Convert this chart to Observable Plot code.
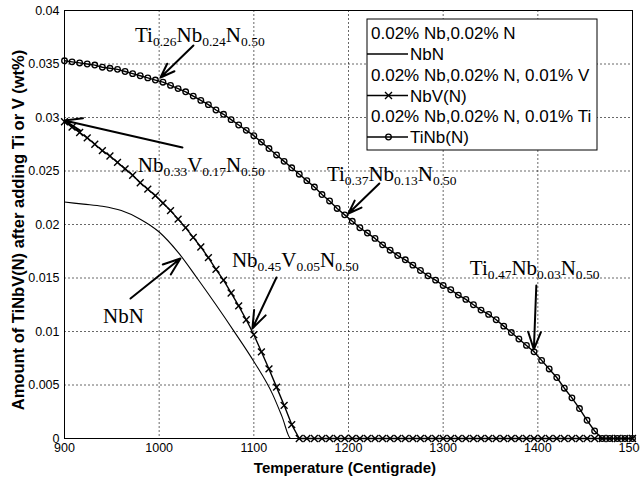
<!DOCTYPE html>
<html><head><meta charset="utf-8">
<script src="https://cdn.jsdelivr.net/npm/d3@7"></script>
<script src="https://cdn.jsdelivr.net/npm/@observablehq/plot@0.6"></script>
<style>
html,body{margin:0;padding:0;background:#fff;}
#chart{width:640px;height:481px;}
</style></head><body><div id="chart"></div>
<script>
// ---- data ----
const temperature = [900,908,916,924,932,940,948,956,964,972,980,988,996,1004,1012,1020,1028,1036,1044,1052,1060,1068,1076,1084,1092,1100,1108,1116,1124,1132,1140,1148,1156,1164,1172,1180,1188,1196,1204,1212,1220,1228,1236,1244,1252,1260,1268,1276,1284,1292,1300,1308,1316,1324,1332,1340,1348,1356,1364,1372,1380,1388,1396,1404,1412,1420,1428,1436,1444,1452,1460,1468,1476,1484,1492,1500];
const tinbValues = [.0353,.0352,.0351,.0350,.0349,.0347,.0346,.0345,.0343,.0341,
  .0339,.0337,.0335,.0333,.0330,.0327,.0324,.0320,.0316,.0312,
  .0307,.0303,.0298,.0293,.0288,.0283,.0277,.0271,.0265,.0259,
  .0253,.0247,.0241,.0235,.0228,.0222,.0215,.0209,.0203,.0197,
  .0192,.0187,.0181,.0176,.0171,.0167,.0162,.0157,.0152,.0148,
  .0143,.0139,.0134,.0130,.0125,.0120,.0116,.0111,.0105,.0099,
  .0093,.0087,.0081,.0073,.0065,.0057,.0047,.0038,.0028,.0017,
  .0007,0,0,0,0,0];
const nbvValues = [.0296,.0291,.0286,.0281,.0275,.0269,.0264,.0258,.0252,.0246,
  .0239,.0233,.0227,.0220,.0213,.0205,.0197,.0188,.0179,.0169,
  .0158,.0148,.0136,.0124,.0111,.0097,.0081,.0065,.0048,.0031,
  .0013,0,0,0,0,0,0,0,0,0,
  0,0,0,0,0,0,0,0,0,0,
  0,0,0,0,0,0,0,0,0,0,
  0,0,0,0,0,0,0,0,0,0,
  0,0,0,0,0,0];
const nbnTemperature = [900,920,940,960,980,1000,1020,1040,1060,1080,1100,1120,1130,1139,1500];
const nbnValues = [.0221,.0219,.0217,.0213,.0205,.0193,.0174,.0150,.0125,.0099,.0072,.0041,.0020,0,0];

const xTicks = [900,1000,1100,1200,1300,1400,1500];
const xTickLabels = ["900","1000","1100","1200","1300","1400","1500"];
const yTicks = [0,0.005,0.01,0.015,0.02,0.025,0.03,0.035,0.04];
const yTickLabels = ["0","0.005","0.01","0.015","0.02","0.025","0.03","0.035","0.04"];

const xTitle = "Temperature (Centigrade)";
const yTitle = "Amount of TiNbV(N) after adding Ti or V (wt%)";

const legendHeaders = ["0.02% Nb,0.02% N","0.02% Nb,0.02% N, 0.01% V","0.02% Nb,0.02% N, 0.01% Ti"];
const legendNames = ["NbN","NbV(N)","TiNb(N)"];
const legendSymbols = [null,"times","circle"];

// annotation labels: alternating normal / subscript parts
const labelParts = [
  ["Ti","0.26","Nb","0.24","N","0.50"],
  ["Nb","0.33","V","0.17","N","0.50"],
  ["Nb","0.45","V","0.05","N","0.50"],
  ["NbN"],
  ["Ti","0.37","Nb","0.13","N","0.50"],
  ["Ti","0.47","Nb","0.03","N","0.50"]
];
// label anchor (left baseline) in data units
const labelT = [975, 978, 1077.4, 941.2, 1177.7, 1328.7];
const labelV = [0.0370, 0.02486, 0.01598, 0.01075, 0.02402, 0.01523];
// arrows: tail (t1,v1) -> tip (t2,v2) in data units
const arrowT1 = [1036.2, 1024.6, 1123.9, 969.7, 1232.6, 1398.4];
const arrowV1 = [0.03673, 0.0272, 0.01505, 0.01308, 0.02383, 0.0143];
const arrowT2 = [1001.4, 900, 1098.5, 1022.5, 1199.9, 1395.8];
const arrowV2 = [0.03374, 0.02972, 0.01028, 0.01682, 0.02103, 0.00832];

// ---- build tables ----
const rows = temperature.map((t,i)=>({t, tinb: tinbValues[i], nbv: nbvValues[i]}));
const nbnRows = nbnTemperature.map((t,i)=>({t, v: nbnValues[i]}));
const arrows = arrowT1.map((d,i)=>({x1:d, y1:arrowV1[i], x2:arrowT2[i], y2:arrowV2[i]}));
const yLabelMap = new Map(yTicks.map((d,i)=>[d, yTickLabels[i]]));
const xLabelMap = new Map(xTicks.map((d,i)=>[d, xTickLabels[i]]));

const grid = {stroke:"#000", strokeOpacity:0.85, strokeWidth:0.7, strokeDasharray:"2,2"};

const plot = Plot.plot({
  width: 640, height: 481,
  marginLeft: 64, marginRight: 8, marginTop: 10, marginBottom: 43,
  style: {fontFamily: "'Liberation Sans', Arial, sans-serif", fontSize: "12.5px", color: "#000", background: "#fff", overflow: "visible"},
  x: {domain: [900, 1500], ticks: xTicks, tickFormat: d => xLabelMap.get(d), tickSize: 0, tickPadding: 5, label: null},
  y: {domain: [0, 0.04], ticks: yTicks, tickFormat: d => yLabelMap.get(d), tickSize: 0, tickPadding: 5, label: null},
  marks: [
    Plot.ruleX(xTicks, grid),
    Plot.ruleY(yTicks, grid),
    Plot.line(nbnRows, {x: "t", y: "v", stroke: "#000", strokeWidth: 1.1, curve: "monotone-x"}),
    Plot.line(rows, {x: "t", y: "nbv", stroke: "#000", strokeWidth: 1.4}),
    Plot.dot(rows, {x: "t", y: "nbv", symbol: "times", r: 3.2, stroke: "#000", strokeWidth: 1.4}),
    Plot.line(rows, {x: "t", y: "tinb", stroke: "#000", strokeWidth: 1.4}),
    Plot.dot(rows, {x: "t", y: "tinb", symbol: "circle", r: 2.8, stroke: "#000", fill: "none", strokeWidth: 1.3}),
    Plot.arrow(arrows, {x1: "x1", y1: "y1", x2: "x2", y2: "y2", stroke: "#000", strokeWidth: 2, headLength: 14, headAngle: 40}),
    Plot.frame({stroke: "#000", strokeWidth: 1})
  ]
});

document.getElementById("chart").appendChild(plot);
const svg = d3.select(plot);
const sx = plot.scale("x"), sy = plot.scale("y");

// annotation labels
labelParts.forEach((parts, k) => {
  const text = svg.append("text")
    .attr("x", sx.apply(labelT[k])).attr("y", sy.apply(labelV[k]))
    .attr("text-anchor", "start")
    .attr("font-family", "'Liberation Serif','Times New Roman',serif")
    .attr("font-size", 21).attr("fill", "#000");
  parts.forEach((s, j) => {
    const ts = text.append("tspan").text(s);
    if (j % 2 === 1) ts.attr("font-size", 13.5).attr("dy", 4);
    else if (j > 0) ts.attr("dy", -4);
  });
});

// axis titles
svg.append("text").attr("x", 345).attr("y", 473).attr("text-anchor", "middle")
  .attr("font-family", "'Liberation Sans', Arial, sans-serif").attr("font-weight", "bold")
  .attr("font-size", 15).text(xTitle);
svg.append("text").attr("transform", "translate(24,230) rotate(-90)").attr("text-anchor", "middle")
  .attr("font-family", "'Liberation Sans', Arial, sans-serif").attr("font-weight", "bold")
  .attr("font-size", 16.5).text(yTitle);

// legend
const lg = svg.append("g").attr("font-family", "'Liberation Sans', Arial, sans-serif").attr("font-size", 17).attr("text-anchor", "start");
lg.append("rect").attr("x", 367).attr("y", 19).attr("width", 230).attr("height", 131)
  .attr("fill", "#fff").attr("stroke", "#000").attr("stroke-width", 1);
legendHeaders.forEach((h, i) => {
  const top = 33 + i * 41.5;
  lg.append("text").attr("x", 371).attr("y", top + 6).text(h);
  const cy = top + 21;
  lg.append("line").attr("x1", 367).attr("x2", 408).attr("y1", cy).attr("y2", cy).attr("stroke", "#000").attr("stroke-width", 1.3);
  if (legendSymbols[i] === "times") {
    lg.append("path").attr("d", `M${385},${cy-3.5}L${392},${cy+3.5}M${392},${cy-3.5}L${385},${cy+3.5}`).attr("stroke", "#000").attr("stroke-width", 1.4);
  } else if (legendSymbols[i] === "circle") {
    lg.append("circle").attr("cx", 388.5).attr("cy", cy).attr("r", 2.8).attr("fill", "none").attr("stroke", "#000").attr("stroke-width", 1.3);
  }
  lg.append("text").attr("x", 410).attr("y", cy + 6).text(legendNames[i]);
});
</script></body></html>
